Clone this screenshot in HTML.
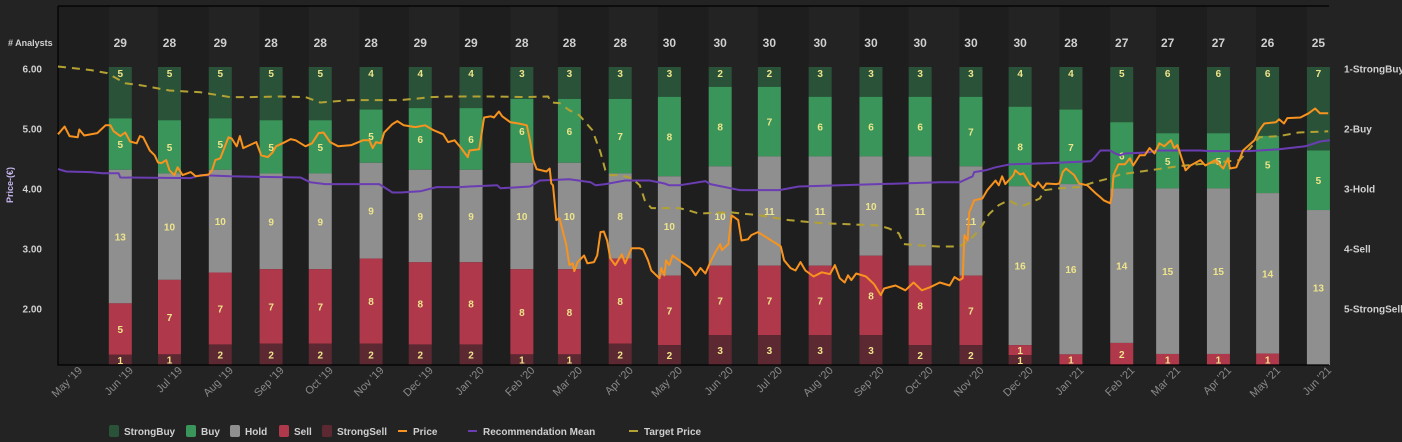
<!DOCTYPE html>
<html><head><meta charset="utf-8"><style>
html,body{margin:0;padding:0;background:#232323;}
svg{display:block;font-family:"Liberation Sans",sans-serif;}
</style></head><body>
<svg id="chart" width="1402" height="442" viewBox="0 0 1402 442">
<rect x="0" y="0" width="1402" height="442" fill="#232323"/>
<g id="plot"></g>
</svg>
<script>
const months=["May '19","Jun '19","Jul '19","Aug '19","Sep '19","Oct '19","Nov '19","Dec '19","Jan '20","Feb '20","Mar '20","Apr '20","May '20","Jun '20","Jul '20","Aug '20","Sep '20","Oct '20","Nov '20","Dec '20","Jan '21","Feb '21","Mar '21","Apr '21","May '21","Jun '21"];
const monthDays=[0,31,61,92,123,153,184,214,245,276,305,336,366,397,427,458,489,519,550,580,611,642,670,701,731,762];
const strongBuy=[5,5,5,5,5,4,4,4,3,3,3,3,2,2,3,3,3,3,4,4,5,6,6,6,7];
const buy=[5,5,5,5,5,5,6,6,6,6,7,8,8,7,6,6,6,7,8,7,6,5,5,5,5];
const hold=[13,10,10,9,9,9,9,9,10,10,8,10,10,11,11,10,11,11,16,16,14,15,15,14,13];
const sell=[5,7,7,7,7,8,8,8,8,8,8,7,7,7,7,8,8,7,1,1,2,1,1,1,0];
const strongSell=[1,1,2,2,2,2,2,2,1,1,2,2,3,3,3,3,2,2,1,0,0,0,0,0,0];
const priceTicks=[6,5,4,3,2];
const ratingTicks=["1-StrongBuy","2-Buy","3-Hold","4-Sell","5-StrongSell"];
const priceDay=[0,4,7,12,13,16,24,29,32,34,38,41,44,48,50,52,56,59,61,63,66,68,71,73,76,81,84,92,94,96,99,104,106,109,111,113,121,124,128,131,133,137,142,145,151,155,159,162,166,171,179,186,190,192,194,197,199,204,207,211,218,224,229,235,238,242,246,250,251,257,260,264,266,269,271,276,281,286,288,290,292,298,300,301,302,304,306,310,312,314,315,317,321,323,327,329,331,333,335,337,340,344,346,350,355,357,360,362,367,368,370,371,373,375,379,386,389,392,395,398,401,404,405,409,411,415,417,421,423,427,433,437,441,443,447,450,453,456,461,466,471,474,477,480,482,484,487,493,498,502,504,511,517,522,527,532,538,544,547,550,552,553,555,556,559,564,567,572,574,576,578,583,584,587,589,593,596,598,601,603,609,611,613,615,620,623,628,633,636,638,642,643,644,647,651,654,656,660,663,666,669,672,675,679,681,683,688,691,697,700,706,711,714,715,719,723,730,733,736,743,745,748,750,758,763,767,770,775];
const priceVal=[4.90,5.03,4.87,4.85,4.98,4.88,4.92,5.05,5.05,4.95,4.87,4.93,4.78,4.75,4.87,4.85,4.63,4.55,4.43,4.42,4.47,4.30,4.22,4.35,4.22,4.27,4.20,4.23,4.30,4.47,4.50,4.85,4.83,4.70,4.87,4.67,4.77,4.55,4.52,4.60,4.70,4.75,4.82,4.80,4.70,4.75,4.92,4.93,4.77,4.70,4.72,4.80,4.80,4.67,4.77,4.75,4.93,5.07,5.12,5.05,5.02,5.05,4.97,4.90,4.77,4.80,4.67,4.52,4.63,4.65,5.18,5.20,5.18,5.28,5.20,5.10,5.08,5.05,4.80,4.47,4.32,4.28,4.33,4.08,4.05,3.47,3.50,3.07,2.72,2.75,2.62,2.77,2.88,2.75,2.77,2.88,3.27,3.28,3.13,2.83,2.72,2.90,2.75,3.00,3.00,2.98,2.80,2.63,2.50,2.67,2.55,2.80,2.72,2.88,2.80,2.67,2.55,2.67,2.58,2.77,2.93,3.07,2.97,3.07,3.55,3.47,3.13,3.15,3.22,3.27,3.17,3.10,3.03,2.80,2.67,2.63,2.77,2.63,2.53,2.60,2.57,2.72,2.50,2.43,2.55,2.47,2.58,2.53,2.40,2.22,2.33,2.38,2.30,2.43,2.30,2.35,2.43,2.38,2.52,2.47,2.50,3.22,3.13,3.60,3.80,3.83,3.97,4.13,4.05,4.20,4.07,4.22,4.30,4.23,4.25,4.07,4.02,4.10,4.00,4.08,4.07,4.08,4.27,4.33,4.22,4.08,4.05,3.92,3.85,3.80,3.75,3.88,4.22,4.40,4.40,4.50,4.38,4.55,4.55,4.67,4.58,4.75,4.70,4.80,4.67,4.72,4.30,4.38,4.47,4.38,4.47,4.33,4.50,4.33,4.35,4.63,4.80,4.97,5.08,5.10,5.15,5.08,5.17,5.18,5.25,5.33,5.25,5.25];
const targetDay=[0,20,30,41,50,68,87,105,117,135,151,160,178,196,209,221,227,239,251,264,285,299,301,306,312,318,326,331,334,337,343,350,355,358,362,367,373,379,385,391,410,428,446,465,483,501,507,513,516,525,537,550,556,562,568,574,580,587,590,599,602,611,623,632,642,648,666,684,703,721,733,745,757,775];
const targetVal=[6.03,5.97,5.92,5.75,5.72,5.63,5.60,5.52,5.52,5.53,5.52,5.43,5.47,5.47,5.47,5.50,5.52,5.53,5.53,5.53,5.52,5.53,5.43,5.42,5.30,5.22,4.97,4.60,4.30,4.22,4.22,4.17,4.05,3.80,3.67,3.67,3.67,3.67,3.63,3.58,3.60,3.55,3.47,3.42,3.40,3.38,3.33,3.25,3.07,3.05,3.03,3.03,3.13,3.30,3.57,3.72,3.80,3.70,3.72,3.83,3.97,4.00,4.02,4.10,4.17,4.23,4.30,4.37,4.42,4.47,4.85,4.87,4.93,4.95];
const meanDay=[0,5,20,27,37,38,81,87,105,148,154,163,196,204,209,221,231,245,251,268,270,288,294,312,325,328,334,346,361,370,373,379,395,398,416,440,452,538,550,558,559,566,572,581,605,630,632,636,642,645,648,651,666,670,697,703,727,745,761,770,776];
const meanVal=[2.68,2.72,2.73,2.75,2.75,2.82,2.83,2.78,2.80,2.82,2.90,2.93,2.93,3.07,3.07,3.05,2.98,2.98,2.97,2.95,3.00,2.97,2.87,2.85,2.90,2.95,2.93,2.87,2.87,2.92,2.95,2.95,2.88,2.93,3.03,3.03,2.97,2.90,2.90,2.80,2.73,2.70,2.65,2.60,2.58,2.55,2.50,2.37,2.37,2.42,2.45,2.42,2.40,2.37,2.37,2.38,2.38,2.35,2.30,2.22,2.20];

const NS="http://www.w3.org/2000/svg";
const plot=document.getElementById('plot');
const X0=58,PX=1.639,TOP=6,BOT=365,BW=23,BARTOP=67;
const xd=d=>X0+d*PX;
const yp=p=>68.3+(6-p)*60;
const yr=r=>68.3+(r-1)*60;
function el(t,a,parent){const e=document.createElementNS(NS,t);for(const k in a)e.setAttribute(k,a[k]);(parent||plot).appendChild(e);return e;}

const bg=el('rect',{x:X0,y:TOP,width:1271,height:BOT-TOP,fill:'#1e1e1e'});


for(let i=1;i<months.length;i++){
  if((i-1)%2===0){
    const x1=xd(monthDays[i]);const x2=i+1<months.length?xd(monthDays[i+1]):1329;
    const s=el('rect',{x:x1,y:TOP,width:x2-x1,height:BOT-TOP,fill:'#232323'});
    
    
  }
}
const series=[[strongBuy,'#2a5238','strongbuy'],[buy,'#3a955a','buy'],[hold,'#8f8f8f','hold'],[sell,'#b0384b','sell'],[strongSell,'#5c2832','strongsell']];
for(let i=0;i<strongBuy.length;i++){
  const total=strongBuy[i]+buy[i]+hold[i]+sell[i]+strongSell[i];
  const x=xd(monthDays[i+1]);
  let y=BARTOP;const h=BOT-BARTOP;
  series.forEach((s,k)=>{
    const v=s[0][i];if(!v)return;
    const sh=v/total*h;
    const r=el('rect',{x:x,y:y,width:BW,height:sh,fill:s[1]});
    
    
    const ty=k===0?y+10:y+sh/2+4;
    const t=el('text',{x:x+BW/2,y:ty,'text-anchor':'middle','font-size':10,'font-weight':'bold',fill:'#eee58a'});
    t.textContent=v;
    
    
    y+=sh;
  });
  const c=el('text',{x:x+BW/2,y:47,'text-anchor':'middle','font-size':12,'font-weight':'bold',fill:'#cfcfcf'});
  c.textContent=total;
  
  
}
el('path',{d:`M${X0} ${TOP}H1329M${X0} ${TOP}V${BOT}H1329`,stroke:'#000',fill:'none','stroke-width':1.2});
function line(days,vals,fy,stroke,w,dash,name){
  const pts=days.map((d,i)=>xd(d).toFixed(1)+','+fy(vals[i]).toFixed(1)).join(' ');
  const p=el('polyline',{points:pts,fill:'none',stroke:stroke,'stroke-width':w,'stroke-linejoin':'round'});
  if(dash)p.setAttribute('stroke-dasharray',dash);
  
  
}
line(targetDay,targetVal,yp,'#b3a233',2,'8,6','target-price-line');
line(meanDay,meanVal,yr,'#6b3db3',2,null,'recommendation-mean-line');
line(priceDay,priceVal,yp,'#f7931e',2,null,'price-line');
priceTicks.forEach(p=>{
  const t=el('text',{x:42,y:yp(p)+4,'text-anchor':'end','font-size':10,'font-weight':'bold',fill:'#d0d0d0'});
  t.textContent=p.toFixed(2);
  
  
});
ratingTicks.forEach((r,i)=>{
  const t=el('text',{x:1344,y:yr(i+1)+4,'font-size':10,'font-weight':'bold',fill:'#d0d0d0'});
  t.textContent=r;
  
  
});
months.forEach((m,i)=>{
  const x=xd(monthDays[i])+25,y=371;
  const t=el('text',{x:x,y:y,'text-anchor':'end','font-size':11,fill:'#8a8a8a',transform:`rotate(-45 ${x} ${y})`});
  t.textContent=m;
  
  
});
const an=el('text',{x:8,y:46,'font-size':9,'font-weight':'bold',fill:'#d0d0d0'});an.textContent='# Analysts';


const yt=el('text',{x:13,y:185,'text-anchor':'middle','font-size':9,'font-weight':'bold',fill:'#c8b8f0',transform:'rotate(-90 13 185)'});yt.textContent='Price-(€)';


const leg=[['StrongBuy','#2a5238',109,124,'sq'],['Buy','#3a955a',186,201,'sq'],['Hold','#8f8f8f',230,245,'sq'],['Sell','#b0384b',279,294,'sq'],['StrongSell','#5c2832',322,337,'sq'],['Price','#f7931e',398,413,'ln'],['Recommendation Mean','#6b3db3',468,483,'ln'],['Target Price','#b3a233',629,644,'ln']];
leg.forEach(l=>{
  const g=el('g',{});
  
  
  if(l[4]==='sq')el('rect',{x:l[2],y:425,width:10,height:12,rx:2,fill:l[1]},g);
  else el('rect',{x:l[2],y:430,width:9,height:2,fill:l[1]},g);
  const t=el('text',{x:l[3],y:435,'font-size':10,'font-weight':'bold',fill:'#cfcfcf'},g);t.textContent=l[0];
});
</script>
</body></html>
